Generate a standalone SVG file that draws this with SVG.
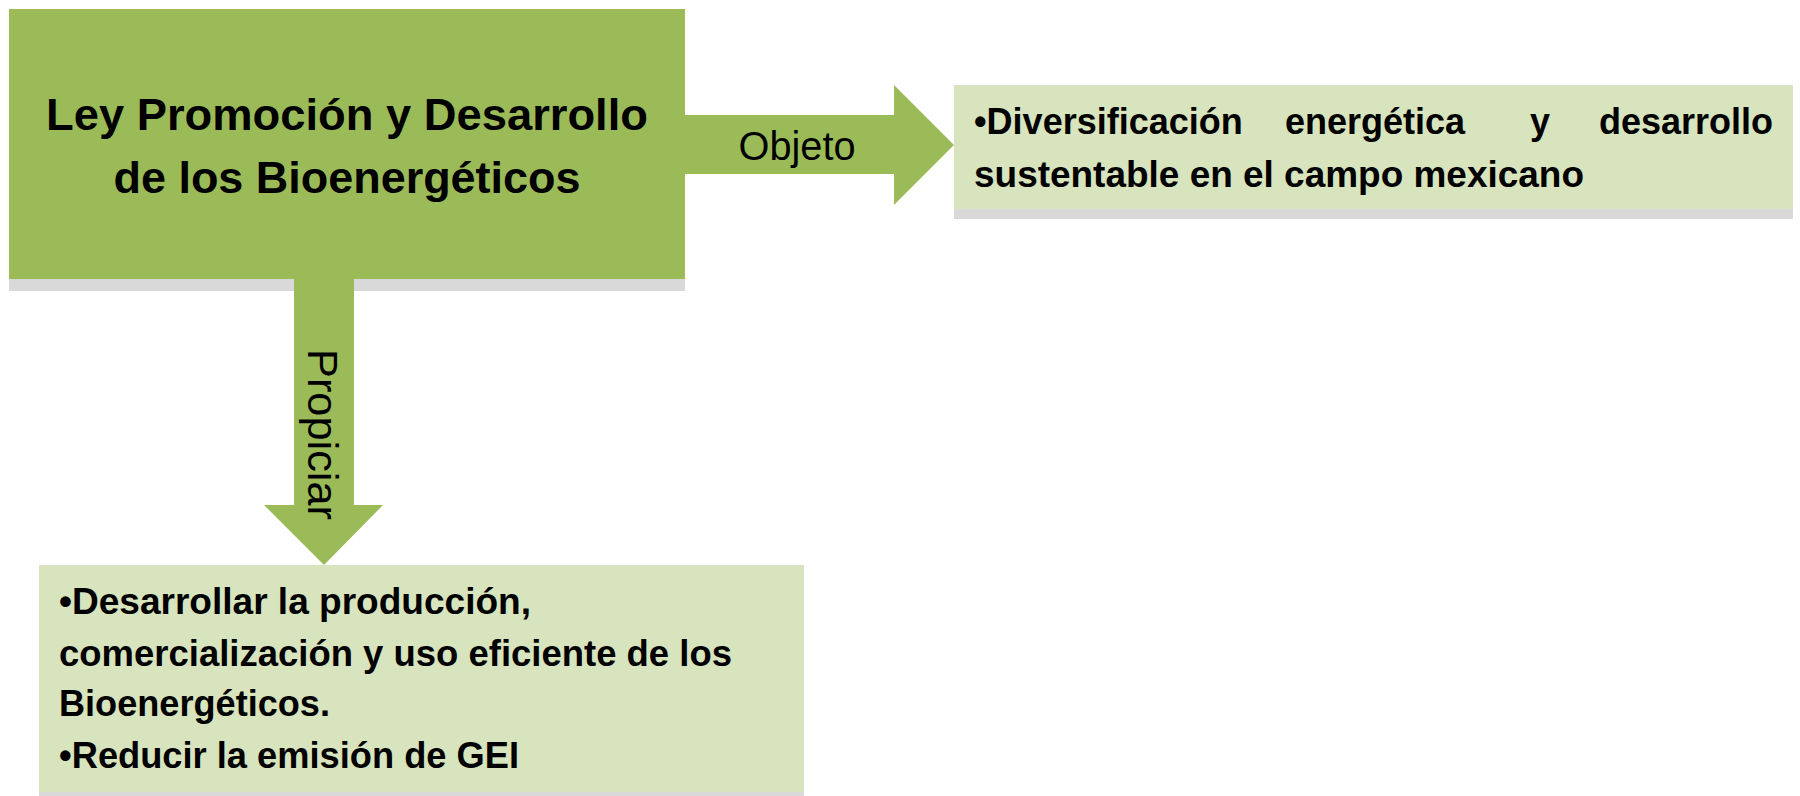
<svg xmlns="http://www.w3.org/2000/svg" width="1800" height="796" viewBox="0 0 1800 796">
<style>
.main{fill:#9BBB59}
.light{fill:#D7E4BD}
.shadow{fill:#D9D9D9}
.arrow{fill:#9BBB59}
.t{font-family:"Liberation Sans",Arial,sans-serif;fill:#000}
.b{font-weight:bold}
</style>
<rect width="1800" height="796" fill="#fff"/>
<g id="node-ley">
<rect class="shadow" x="9" y="279" width="676" height="12"/>
<rect class="main" x="9" y="9" width="676" height="270"/>
<text class="t b" font-size="45" text-anchor="middle" x="347" y="130" textLength="602" lengthAdjust="spacingAndGlyphs">Ley Promoción y Desarrollo</text>
<text class="t b" font-size="45" text-anchor="middle" x="347" y="193" textLength="467" lengthAdjust="spacingAndGlyphs">de los Bioenergéticos</text>
</g>
<g id="node-objeto">
<rect class="shadow" x="954" y="209" width="839" height="10"/>
<rect class="light" x="954" y="85" width="839" height="124"/>
<text class="t b" font-size="36" y="134"><tspan x="974">•Diversificación</tspan><tspan x="1285">energética</tspan><tspan x="1530">y</tspan><tspan x="1773" text-anchor="end">desarrollo</tspan></text>
<text class="t b" font-size="36" x="974" y="187" textLength="610" lengthAdjust="spacingAndGlyphs">sustentable en el campo mexicano</text>
</g>
<g id="node-propiciar">
<rect class="shadow" x="39" y="792" width="765" height="4"/>
<rect class="light" x="39" y="565" width="765" height="227"/>
<text class="t b" font-size="36" x="59" y="614" textLength="472" lengthAdjust="spacingAndGlyphs">•Desarrollar la producción,</text>
<text class="t b" font-size="36" x="59" y="666" textLength="673" lengthAdjust="spacingAndGlyphs">comercialización y uso eficiente de los</text>
<text class="t b" font-size="36" x="59" y="716" textLength="271" lengthAdjust="spacingAndGlyphs">Bioenergéticos.</text>
<text class="t b" font-size="36" x="59" y="768" textLength="460" lengthAdjust="spacingAndGlyphs">•Reducir la emisión de GEI</text>
</g>
<g id="connectors">
<polygon class="arrow" points="685,115 894,115 894,85 954,145 894,205 894,174 685,174"/>
<text class="t" font-size="40" x="797" y="160" text-anchor="middle" textLength="117" lengthAdjust="spacingAndGlyphs">Objeto</text>
<polygon class="arrow" points="294,279 354,279 354,505 383,505 324,565 264,505 294,505"/>
<text class="t" font-size="42" transform="translate(308,349) rotate(90)" textLength="171" lengthAdjust="spacingAndGlyphs">Propiciar</text>
</g>
</svg>
